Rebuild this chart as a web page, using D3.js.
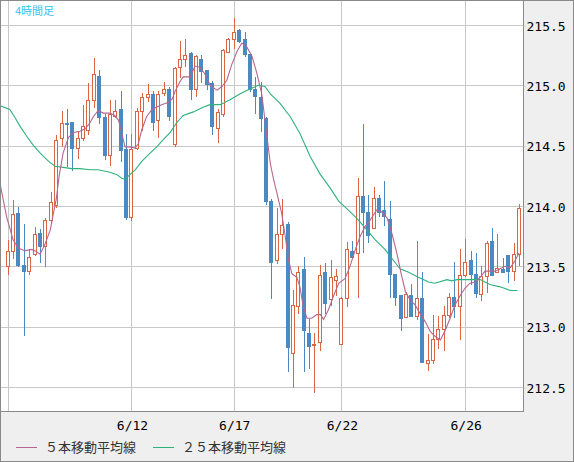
<!DOCTYPE html>
<html>

<head>
  <meta charset="utf8">
  <script src="https://d3js.org/d3.v7.min.js"></script>
  <style>
    body {
      margin: 0;
      background: #fff;
    }

    .axis text {
      font-family: "DejaVu Sans Mono", monospace;
      font-size: 13px;
      fill: #000;
    }

    .legend text {
      font-family: "Noto Sans CJK JP", sans-serif;
      font-size: 13px;
      fill: #333;
    }
  </style>
</head>

<body>
  <svg id="chart" width="574" height="462"></svg>

  <script>
    // 4-hour candles, oldest first
    var opens = [213.50, 213.63, 213.94, 213.51, 213.46, 213.60, 213.78, 213.67, 213.88, 214.01,
      214.56, 214.69, 214.70, 214.48, 214.56, 214.63, 214.88, 215.08, 214.74, 214.42,
      214.75, 214.80, 214.47, 213.91, 214.48, 214.79, 214.90, 214.93, 214.71, 214.94,
      214.97, 214.51, 215.15, 215.22, 215.27, 214.97, 215.22, 215.13, 215.02, 214.65,
      214.76, 215.28, 215.38, 215.46, 215.38, 215.26, 214.97, 214.90, 214.73, 214.04,
      213.55, 213.77, 213.85, 212.78, 213.17, 213.48, 212.95, 212.85, 212.87, 213.45,
      213.23, 213.39, 212.86, 213.24, 213.63, 213.61, 214.08, 213.95, 213.82, 214.07,
      213.97, 213.89, 213.44, 213.26, 213.08, 213.26, 213.09, 213.24, 212.70, 212.72,
      212.90, 212.98, 213.10, 213.25, 213.17, 213.43, 213.55, 213.44, 213.27, 213.42,
      213.71, 213.45, 213.48, 213.59, 213.46, 213.60];

    var highs = [213.72, 214.05, 213.99, 213.85, 213.64, 213.83, 213.81, 213.90, 214.12, 214.59,
      214.79, 214.80, 214.70, 214.62, 214.84, 215.02, 215.23, 215.13, 214.76, 214.88,
      214.88, 214.95, 214.60, 214.60, 214.81, 214.94, 215.01, 214.95, 214.95, 215.03,
      214.99, 215.15, 215.37, 215.38, 215.28, 215.25, 215.25, 215.13, 215.04, 214.80,
      215.30, 215.39, 215.56, 215.47, 215.44, 215.27, 215.07, 215.03, 214.74, 214.06,
      213.98, 214.06, 213.87, 213.30, 213.50, 213.58, 213.06, 212.95, 213.51, 213.53,
      213.55, 213.48, 213.25, 213.70, 213.71, 214.23, 214.68, 214.09, 214.16, 214.09,
      214.21, 214.04, 213.44, 213.26, 213.29, 213.35, 213.71, 213.45, 212.94, 213.10,
      213.09, 213.17, 213.28, 213.54, 213.64, 213.73, 213.63, 213.61, 213.50, 213.71,
      213.82, 213.77, 213.57, 213.59, 213.69, 214.02];

    var lows = [213.44, 213.57, 213.50, 212.93, 213.44, 213.59, 213.54, 213.50, 213.87, 213.99,
      214.50, 214.33, 214.30, 214.40, 214.55, 214.60, 214.82, 214.69, 214.39, 214.34,
      214.74, 214.37, 213.89, 213.88, 214.47, 214.63, 214.87, 214.63, 214.57, 214.92,
      214.71, 214.50, 215.07, 215.16, 214.89, 214.91, 215.03, 214.97, 214.60, 214.53,
      214.75, 215.28, 215.31, 215.36, 215.24, 214.95, 214.77, 214.62, 214.02, 213.24,
      213.53, 213.65, 212.63, 212.50, 213.11, 212.63, 212.66, 212.46, 212.81, 213.11,
      213.18, 213.26, 212.86, 213.17, 213.58, 213.25, 213.62, 213.70, 213.82, 213.92,
      213.84, 213.25, 213.18, 212.97, 213.08, 213.09, 213.06, 212.71, 212.64, 212.70,
      212.82, 212.81, 213.08, 213.08, 212.90, 213.42, 213.35, 213.25, 213.22, 213.29,
      213.43, 213.45, 213.45, 213.37, 213.39, 213.51];

    var closes = [213.63, 213.93, 213.51, 213.46, 213.58, 213.77, 213.67, 213.88, 214.03, 214.55,
      214.69, 214.68, 214.48, 214.56, 214.66, 214.88, 215.09, 214.74, 214.42, 214.76,
      214.79, 214.46, 213.91, 214.47, 214.79, 214.90, 214.93, 214.70, 214.93, 214.97,
      214.75, 215.14, 215.22, 215.25, 214.97, 215.24, 215.12, 215.01, 214.66, 214.78,
      215.29, 215.38, 215.44, 215.37, 215.26, 214.97, 214.91, 214.73, 214.04, 213.54,
      213.77, 213.84, 212.83, 213.18, 213.45, 212.97, 212.84, 212.86, 213.43, 213.20,
      213.41, 213.42, 213.24, 213.64, 213.58, 214.08, 213.95, 213.76, 214.07, 213.95,
      213.92, 213.44, 213.25, 213.07, 213.27, 213.09, 213.24, 212.71, 212.72, 212.90,
      212.98, 213.10, 213.25, 213.17, 213.43, 213.54, 213.44, 213.28, 213.42, 213.69,
      213.43, 213.49, 213.45, 213.46, 213.60, 213.98];

    // moving averages: [candle index, value]
    var ma5 = [[-1.4, 214.18], [-0.2, 213.91], [1.0, 213.72], [2.0, 213.65], [3.2, 213.63], [4.5, 213.64],
    [5.4, 213.62], [6.0, 213.60], [6.9, 213.68], [7.9, 213.80], [8.5, 213.94], [9.0, 214.05],
    [9.6, 214.26], [10.3, 214.44], [11.3, 214.57], [12.3, 214.61], [13.4, 214.62], [14.4, 214.64],
    [15.3, 214.69], [15.9, 214.74], [16.8, 214.79], [17.8, 214.77], [19.0, 214.77], [19.9, 214.75],
    [20.6, 214.71], [21.2, 214.60], [21.8, 214.49], [22.7, 214.49], [23.7, 214.48], [24.3, 214.52],
    [24.9, 214.63], [25.8, 214.74], [26.8, 214.80], [27.7, 214.82], [28.6, 214.84], [29.9, 214.86],
    [30.6, 214.89], [31.1, 214.95], [32.0, 215.03], [32.6, 215.07], [33.9, 215.07], [34.8, 215.16],
    [35.7, 215.15], [36.7, 215.09], [37.6, 215.00], [38.9, 214.96], [39.8, 214.99], [40.7, 215.04],
    [41.6, 215.17], [42.6, 215.28], [43.5, 215.35], [44.4, 215.32], [45.4, 215.24], [46.3, 215.10],
    [47.2, 214.93], [48.1, 214.60], [48.8, 214.35], [49.4, 214.22], [50.0, 214.11], [50.9, 213.94],
    [51.5, 213.77], [52.2, 213.55], [52.8, 213.44], [53.7, 213.41], [54.3, 213.33], [54.9, 213.17],
    [55.6, 213.07], [56.5, 213.07], [57.4, 213.10], [58.1, 213.10], [58.7, 213.06], [59.6, 213.14],
    [60.5, 213.25], [61.5, 213.36], [62.7, 213.40], [63.6, 213.50], [64.6, 213.64], [65.5, 213.75],
    [66.4, 213.83], [67.3, 213.88], [68.6, 213.97], [69.5, 213.95], [70.5, 213.90], [71.4, 213.77],
    [72.3, 213.61], [73.1, 213.44], [73.9, 213.29], [74.8, 213.22], [75.7, 213.18], [76.6, 213.11],
    [77.6, 213.04], [78.5, 212.96], [79.4, 212.92], [80.4, 212.89], [81.3, 212.97], [82.2, 213.07],
    [83.1, 213.18], [84.1, 213.26], [85.0, 213.32], [85.9, 213.36], [86.9, 213.37], [87.8, 213.41],
    [88.7, 213.46], [89.6, 213.46], [90.6, 213.46], [91.5, 213.48], [92.4, 213.50], [93.4, 213.49],
    [94.3, 213.55], [95.0, 213.61]];

    var ma25 = [[-1.4, 214.83], [0.4, 214.80], [1.4, 214.73], [2.3, 214.66], [3.5, 214.58], [4.8, 214.50],
    [6.0, 214.44], [7.6, 214.37], [8.8, 214.33], [10.3, 214.32], [11.9, 214.31], [13.4, 214.31],
    [15.3, 214.30], [16.8, 214.30], [19.0, 214.28], [20.3, 214.26], [21.2, 214.23], [21.8, 214.22],
    [22.7, 214.26], [23.7, 214.30], [24.9, 214.37], [26.5, 214.44], [27.7, 214.49], [28.9, 214.55],
    [30.2, 214.61], [31.4, 214.69], [32.6, 214.75], [34.5, 214.78], [36.4, 214.82], [37.6, 214.84],
    [39.5, 214.84], [41.3, 214.88], [43.2, 214.93], [45.0, 214.97], [46.6, 215.00], [47.8, 214.99],
    [48.8, 214.93], [50.6, 214.85], [52.5, 214.74], [54.3, 214.60], [56.2, 214.41], [58.1, 214.26],
    [59.9, 214.15], [61.5, 214.04], [62.7, 213.99], [64.6, 213.91], [66.4, 213.82], [68.3, 213.72],
    [70.1, 213.64], [72.0, 213.53], [72.9, 213.48], [74.5, 213.45], [76.3, 213.41], [78.2, 213.37],
    [79.4, 213.36], [81.6, 213.39], [82.5, 213.38], [83.5, 213.39], [85.9, 213.39], [87.8, 213.39],
    [89.6, 213.35], [91.5, 213.33], [93.4, 213.30], [94.7, 213.30]];

    var yTicks = [212.5, 213.0, 213.5, 214.0, 214.5, 215.0, 215.5];
    var xTickIdx = [0, 23, 42, 62, 85];
    var xTickLabels = ['', '6/12', '6/17', '6/22', '6/26'];

    var chart = d3.select('#chart');
    var plotW = 523, plotH = 411;

    var x = d3.scaleLinear().domain([0, 95]).range([7.7, 519]);
    var y = d3.scaleLinear().domain([212.5, 215.5]).range([387, 25]);

    // backgrounds and frames
    chart.append('rect')
      .attr('x', 0.5).attr('y', 0.5).attr('width', 573).attr('height', 461)
      .attr('fill', '#efefef').attr('stroke', '#8a8a8a');

    chart.append('defs').append('clipPath').attr('id', 'clip')
      .append('rect').attr('x', 1).attr('y', 1).attr('width', plotW - 1).attr('height', plotH - 1);

    chart.append('rect')
      .attr('x', 0.5).attr('y', 0.5).attr('width', plotW).attr('height', plotH)
      .attr('fill', '#fff');

    // gridlines
    var grid = chart.append('g').attr('shape-rendering', 'crispEdges');
    grid.selectAll('.hgrid')
      .data(yTicks)
      .enter()
      .append('line')
      .attr('x1', 1).attr('x2', plotW)
      .attr('y1', (d) => Math.round(y(d)) + 0.5)
      .attr('y2', (d) => Math.round(y(d)) + 0.5)
      .attr('stroke', '#c8c8c8');
    grid.selectAll('.vgrid')
      .data(xTickIdx)
      .enter()
      .append('line')
      .attr('x1', (d) => Math.round(x(d)) + 0.5)
      .attr('x2', (d) => Math.round(x(d)) + 0.5)
      .attr('y1', 1).attr('y2', plotH)
      .attr('stroke', '#c8c8c8');

    // candles
    var candles = closes.map((c, i) => ({ i: i, o: opens[i], h: highs[i], l: lows[i], c: c, up: c >= opens[i] }));
    var red = '#dc6441', blue = '#4b89c2';

    var cg = chart.append('g').attr('clip-path', 'url(#clip)').attr('shape-rendering', 'crispEdges');

    var cand = cg.selectAll('.candle')
      .data(candles)
      .enter()
      .append('g')
      .attr('class', 'candle');

    cand.append('line')
      .attr('x1', (d) => Math.round(x(d.i)) + 0.5)
      .attr('x2', (d) => Math.round(x(d.i)) + 0.5)
      .attr('y1', (d) => Math.round(y(d.h)))
      .attr('y2', (d) => Math.round(y(d.l)) + 1)
      .attr('stroke', (d) => d.up ? red : blue);

    cand.filter((d) => d.up)
      .append('rect')
      .attr('x', (d) => Math.round(x(d.i)) - 1.5)
      .attr('y', (d) => Math.round(y(d.c)) + 0.5)
      .attr('width', 3)
      .attr('height', (d) => Math.max(1, Math.round(y(d.o)) - Math.round(y(d.c))))
      .attr('fill', '#fff')
      .attr('stroke', red);

    cand.filter((d) => !d.up)
      .append('rect')
      .attr('x', (d) => Math.round(x(d.i)) - 2)
      .attr('y', (d) => Math.round(y(d.o)))
      .attr('width', 4)
      .attr('height', (d) => Math.max(2, Math.round(y(d.c)) - Math.round(y(d.o)) + 1))
      .attr('fill', blue);

    // moving averages
    var line = d3.line()
      .x((d) => x(d[0]))
      .y((d) => y(d[1]));

    var mg = chart.append('g').attr('clip-path', 'url(#clip)');
    mg.append('path')
      .datum(ma25)
      .attr('d', line)
      .attr('fill', 'none')
      .attr('stroke', '#2eb27b')
      .attr('stroke-width', 1.1);
    mg.append('path')
      .datum(ma5)
      .attr('d', line)
      .attr('fill', 'none')
      .attr('stroke', '#b5668f')
      .attr('stroke-width', 1.1);

    // plot frame
    chart.append('rect')
      .attr('x', 0.5).attr('y', 0.5).attr('width', plotW).attr('height', plotH)
      .attr('fill', 'none').attr('stroke', '#8a8a8a')
      .attr('shape-rendering', 'crispEdges');

    // right price axis
    var yAxis = chart.append('g')
      .attr('class', 'axis y-axis')
      .attr('transform', 'translate(' + (plotW + 0.5) + ', 0.5)')
      .call(d3.axisRight(y).tickValues(yTicks).tickSize(2).tickPadding(1).tickFormat(d3.format('.1f')));
    yAxis.select('.domain').remove();
    yAxis.selectAll('line').attr('stroke', '#c8c8c8');
    yAxis.selectAll('text').attr('dy', '0.36em');

    // bottom date axis
    var xAxis = chart.append('g')
      .attr('class', 'axis x-axis')
      .attr('transform', 'translate(0.5, ' + plotH + ')')
      .call(d3.axisBottom(x).tickValues(xTickIdx).tickSize(0).tickFormat((d, i) => xTickLabels[i]));
    xAxis.select('.domain').remove();
    xAxis.selectAll('text').attr('y', 19).attr('dy', 0);

    // title
    chart.append('text')
      .attr('x', 15)
      .attr('y', 15)
      .attr('font-family', '"Noto Sans CJK JP", sans-serif')
      .attr('font-size', 11)
      .attr('fill', '#33c6ee')
      .text('4時間足');

    // legend
    var legend = chart.append('g').attr('class', 'legend');
    var items = [
      { label: '５本移動平均線', color: '#b5668f', x: 16 },
      { label: '２５本移動平均線', color: '#2eb27b', x: 153 }
    ];
    var li = legend.selectAll('g')
      .data(items)
      .enter()
      .append('g')
      .attr('transform', (d) => 'translate(' + d.x + ', 447)');
    li.append('line')
      .attr('x1', 0).attr('x2', 21)
      .attr('y1', 0.5).attr('y2', 0.5)
      .attr('stroke', (d) => d.color)
      .attr('shape-rendering', 'crispEdges');
    li.append('text')
      .attr('x', 29)
      .attr('y', 5)
      .text((d) => d.label);
  </script>
</body>

</html>
